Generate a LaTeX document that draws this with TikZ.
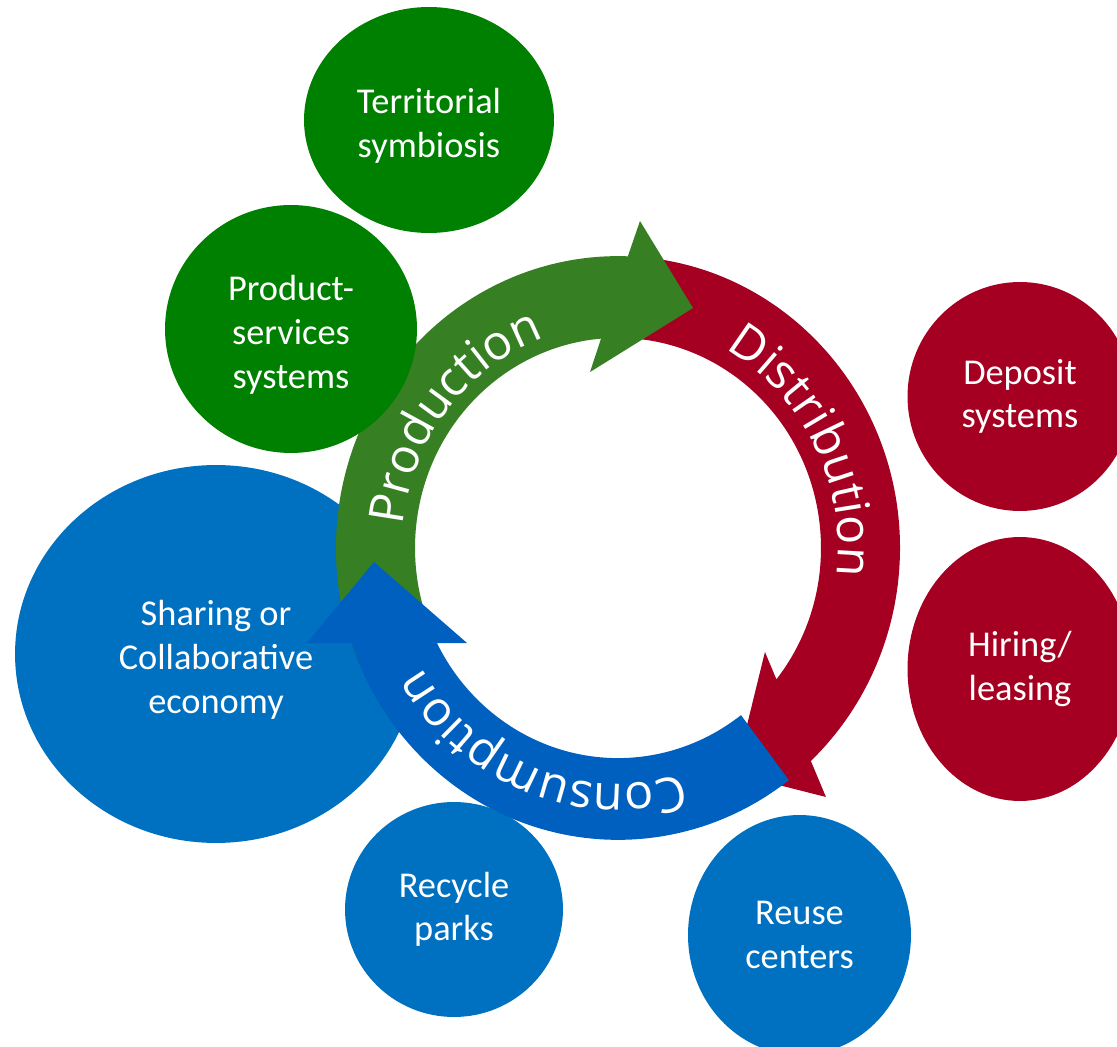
\documentclass[tikz,border=0pt]{standalone}
\usepackage{fontspec}
\setmainfont{Carlito}
\newfontfamily\ringfont{Open Sans}
\usetikzlibrary{shapes.geometric,decorations.text}
\definecolor{cgreen}{HTML}{008000}
\definecolor{bgreen}{HTML}{367F23}
\definecolor{cred}{HTML}{A50021}
\definecolor{cblue}{HTML}{0070C0}
\definecolor{bblue}{HTML}{0060BF}
\newcommand\ringtext{\ringfont\fontsize{27.5}{30}\selectfont\color{white}}
\newcommand\padtop{\rule{0pt}{21pt}}
\begin{document}
\begin{tikzpicture}[x=0.02cm,y=0.02cm,
  bubble/.style={ellipse, inner sep=0pt, text=white, align=center,
    font=\fontsize{20.7}{24.8}\selectfont},
  ringlabel/.style={decorate, decoration={text along path, text align=center, text={|\ringtext|#1}}}
  ]
\useasboundingbox (0,0) rectangle (1117,1046);

% circles behind the ring
\node[bubble, fill=cblue, minimum width=8.04cm, minimum height=7.56cm] (share) at (216,392) {\padtop Sharing or\\Collaborative\\economy};
\node[bubble, fill=cblue, minimum width=4.36cm, minimum height=4.3cm] (recycle) at (454,136.5) {Recycle\\parks};
\node[bubble, fill=cblue, minimum width=4.46cm, minimum height=4.8cm] (reuse) at (799.5,111) {Reuse\\centers};
\node[bubble, fill=cgreen, minimum width=5cm, minimum height=4.52cm] (terr) at (429,926) {\padtop Territorial\\symbiosis};
\node[bubble, fill=cred, minimum width=4.5cm, minimum height=4.58cm] (deposit) at (1020,649.5) {Deposit\\systems};
\node[bubble, fill=cred, minimum width=4.5cm, minimum height=5.28cm] (hiring) at (1020,377) {Hiring/\\leasing};

% the ring of three arrows
\begin{scope}[shift={(618,498)}, yscale=1.035]
  \fill[cred] (85:282) arc[start angle=85, end angle=-46.85, radius=282]
    -- (-49.16:318) -- (-61.8:247.7) -- (-34.36:178) -- (-38.7:203)
    arc[start angle=-38.7, end angle=85, radius=203] -- cycle;
  \fill[bgreen] (205:282) arc[start angle=205, end angle=88, radius=282]
    -- (86.02:316.7) -- (72.08:243.7) -- (99.35:172.3) -- (94.8:203)
    arc[start angle=94.8, end angle=205, radius=203] -- cycle;
  \fill[bblue] (307.3:282) arc[start angle=307.3, end angle=199, radius=282]
    -- (196.45:324.3) -- (183.17:244.4) -- (211.3:176.7) -- (206.9:203)
    arc[start angle=206.9, end angle=307.3, radius=203] -- cycle;
\end{scope}

% ring labels
\begin{scope}[shift={(618,498)}]
  \path[ringlabel=Production] (181:216 and 223.6)
    arc[start angle=181, end angle=103, x radius=216, y radius=223.6];
  \path[ringlabel=Distribution] (66:220 and 227.7)
    arc[start angle=66, end angle=-12, x radius=220, y radius=227.7];
  \path[ringlabel=Consumption] (288:228 and 236)
    arc[start angle=288, end angle=209, x radius=228, y radius=236];
\end{scope}

% circle in front of the ring
\node[bubble, fill=cgreen, minimum width=5.04cm, minimum height=4.96cm] (prodserv) at (291,717) {\padtop Product-\\services\\systems};
\end{tikzpicture}
\end{document}
